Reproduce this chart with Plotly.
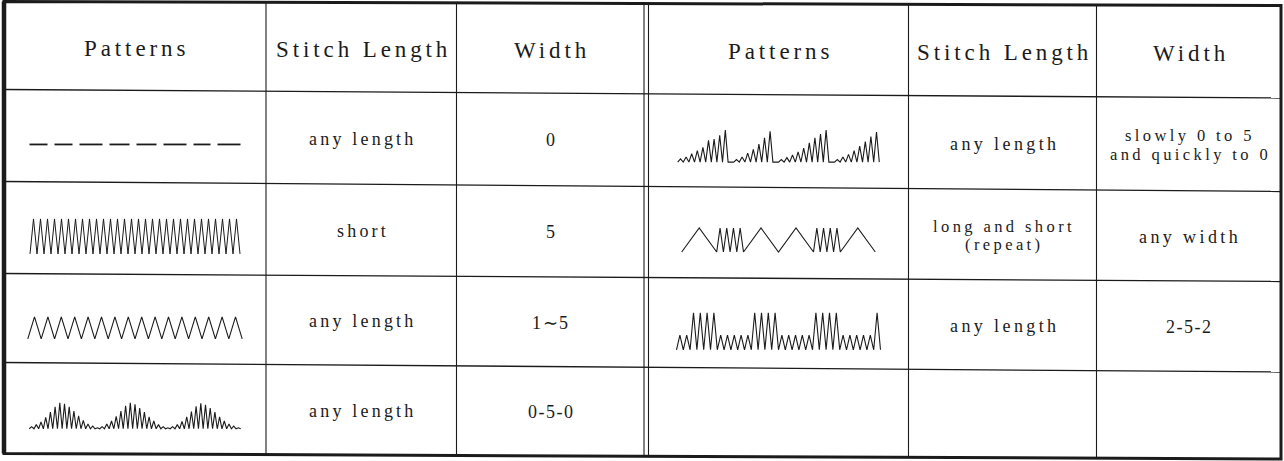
import plotly.graph_objects as go

# ---- table text ----
HEADERS = ["Patterns", "Stitch Length", "Width", "Patterns", "Stitch Length", "Width"]
LENGTH_LEFT = ["any length", "short", "any length", "any length"]
WIDTH_LEFT = ["0", "5", "1∼5", "0-5-0"]
LENGTH_RIGHT = ["any length", "long and short<br>(repeat)", "any length", ""]
WIDTH_RIGHT = ["slowly 0 to 5<br>and quickly to 0", "any width", "2-5-2", ""]

# ---- stitch drawings ----
# straight stitch (width 0): length of each stitch in px
STRAIGHT_DASHES = [18, 18, 23, 20, 20, 23, 17, 23]
# zigzag stitches: needle swing (0-5 on the dial) of every stitch
SATIN_WIDTHS = [5, 5, 5, 5, 5, 5, 5, 5, 5, 5, 5, 5, 5, 5, 5,
                5, 5, 5, 5, 5, 5, 5, 5, 5, 5, 5, 5, 5, 5, 5]
ZIGZAG_WIDTHS = [3, 3, 3, 3, 3, 3, 3, 3, 3, 3, 3, 3, 3, 3, 3, 3]
DOME_WIDTHS = [0.4, 0.8, 1.3, 2.2, 3.2, 4.2, 5.0, 4.8, 4.2, 3.4, 2.5, 1.6, 0.9, 0.5, 0.2,
               0.4, 0.9, 1.5, 2.4, 3.4, 4.4, 5.0, 4.7, 4.0, 3.2, 2.3, 1.5, 0.8, 0.4, 0.2,
               0.4, 0.8, 1.4, 2.3, 3.3, 4.3, 4.9, 4.6, 4.0, 3.2, 2.3, 1.5, 0.9, 0.5, 0.2]
RAMP_WIDTHS = [0.5, 0.8, 1.3, 1.8, 2.3, 3.4, 3.6, 4.2, 5.0, 0,
               0.4, 0.8, 1.4, 2.0, 2.8, 3.8, 4.8, 0,
               0.4, 0.7, 1.1, 1.6, 2.2, 3.0, 3.8, 4.4, 5.0, 0,
               0.4, 0.8, 1.2, 1.8, 2.5, 3.2, 4.0, 4.7]
LONG_SHORT_SEQ = ["L", "L", "S", "S", "S", "S", "S", "S", "S", "S",
                  "L", "L", "L", "L", "S", "S", "S", "S", "S", "S", "S", "S", "L", "L"]
LONG_SHORT_STEP = {"L": 17.5, "S": 3.35}
W252_WIDTHS = [2, 2, 5, 5, 5, 5, 2, 2, 2, 2, 2, 5, 5, 5, 5,
               2, 2, 2, 2, 2, 5, 5, 5, 5, 2, 2, 2, 2, 2, 5]

# ---- grid of the (slightly skewed) scan ----
COL_X = [4, 266, 456.5, 644, 648.5, 908.5, 1096.5, 1281]
ROW_Y_LEFT = [1.5, 89.5, 181.5, 273.5, 362.5, 453.5]
ROW_Y_RIGHT = [5.5, 98, 191.5, 281.5, 372, 459]

INK = "#1b1b1b"
FONT = "Liberation Serif"


def line_y(i, x):
    return ROW_Y_LEFT[i] + (ROW_Y_RIGHT[i] - ROW_Y_LEFT[i]) * (x - COL_X[0]) / (COL_X[-1] - COL_X[0])


def row_center(r, x):
    return (line_y(r, x) + line_y(r + 1, x)) / 2


def zigzag(widths, pitch, scale):
    xs, ys, x = [0.0], [0.0], 0.0
    for w in widths:
        xs += [x + pitch / 2, x + pitch]
        ys += [w * scale, 0.0]
        x += pitch
    return xs, ys


def swing(seq, steps, height):
    xs, ys = [0.0], [0.0]
    for i, s in enumerate(seq):
        xs.append(xs[-1] + steps[s])
        ys.append(height if i % 2 == 0 else 0.0)
    return xs, ys


def dashes(lengths, gap):
    xs, ys, x = [], [], 0.0
    for d in lengths:
        xs += [x, x + d, None]
        ys += [0.0, 0.0, None]
        x += d + gap
    return xs, ys


fig = go.Figure()


def add_pattern(xs, ys, col, row, lw=1.1, dy=7):
    x0, x1 = COL_X[col], COL_X[col + 1]
    cx = (x0 + x1) / 2
    vals = [v for v in xs if v is not None]
    length = max(vals)
    height = max(v for v in ys if v is not None)
    cy = row_center(row, cx) + dy
    X = [None if v is None else cx - length / 2 + v for v in xs]
    Y = [None if v is None else cy + height / 2 - v for v in ys]
    fig.add_trace(go.Scatter(x=X, y=Y, mode="lines", hoverinfo="skip",
                             line=dict(color=INK, width=lw), showlegend=False))


def add_text(text, col, row, size, ls, dy=0):
    x0, x1 = COL_X[col], COL_X[col + 1]
    cx = (x0 + x1) / 2
    cy = row_center(row, cx) + dy
    lines = text.split("<br>") if text else []
    if len(lines) > 1:
        size -= 1.5
    gap = size * 1.12
    for k, t in enumerate(lines):
        off = (k - (len(lines) - 1) / 2) * gap
        spacing = ls if any(c.isalpha() for c in t) else 1.5
        fig.add_annotation(
            x=cx + spacing / 2, y=cy + off, xref="x", yref="y",
            text=f'<span style="letter-spacing:{spacing}px">{t}</span>',
            showarrow=False, xanchor="center", yanchor="middle",
            font=dict(family=FONT, size=size, color=INK),
        )


# patterns (left block col 0, right block col 4)
add_pattern(*dashes(STRAIGHT_DASHES, 7), 0, 1, lw=1.8, dy=8)
add_pattern(*zigzag(SATIN_WIDTHS, 7.0, 7.0), 0, 2, lw=1.0, dy=8)
add_pattern(*zigzag(ZIGZAG_WIDTHS, 13.4, 7.3), 0, 3, dy=9)
add_pattern(*zigzag(DOME_WIDTHS, 4.7, 5.2), 0, 4, dy=7)
add_pattern(*zigzag(RAMP_WIDTHS, 5.6, 6.4), 4, 1, dy=5)
add_pattern(*swing(LONG_SHORT_SEQ, LONG_SHORT_STEP, 24), 4, 2, dy=7)
add_pattern(*zigzag(W252_WIDTHS, 6.8, 7.4), 4, 3, dy=8)

# header and cell text
for c, h in zip([0, 1, 2, 4, 5, 6], HEADERS):
    add_text(h, c, 0, 23, 3.9, dy=2)
for r in range(4):
    add_text(LENGTH_LEFT[r], 1, r + 1, 18, 3.2, dy=1)
    add_text(WIDTH_LEFT[r], 2, r + 1, 18, 3.2, dy=1)
    add_text(LENGTH_RIGHT[r], 5, r + 1, 18, 3.4, dy=1)
    add_text(WIDTH_RIGHT[r], 6, r + 1, 18, 3.4, dy=1)

# grid lines
shapes = []
for i in range(1, len(ROW_Y_LEFT) - 1):
    shapes.append(dict(type="line", x0=COL_X[0], x1=COL_X[-1],
                       y0=ROW_Y_LEFT[i], y1=ROW_Y_RIGHT[i],
                       line=dict(color=INK, width=1.3)))
for x in COL_X[1:-1]:
    shapes.append(dict(type="line", x0=x, x1=x, y0=line_y(0, x), y1=line_y(5, x),
                       line=dict(color=INK, width=1.1)))
border = (f"M {COL_X[0]},{ROW_Y_LEFT[0]} L {COL_X[-1]},{ROW_Y_RIGHT[0]} "
          f"L {COL_X[-1]},{ROW_Y_RIGHT[-1]} L {COL_X[0]},{ROW_Y_LEFT[-1]} Z")
shapes.append(dict(type="path", path=border, line=dict(color=INK, width=3)))
shapes.append(dict(type="line", x0=COL_X[0], x1=COL_X[0], y0=ROW_Y_LEFT[0], y1=ROW_Y_LEFT[-1],
                   line=dict(color=INK, width=4.5)))

fig.update_layout(
    width=1284, height=461,
    margin=dict(l=0, r=0, t=0, b=0),
    paper_bgcolor="white", plot_bgcolor="white",
    xaxis=dict(range=[0, 1284], visible=False, fixedrange=True),
    yaxis=dict(range=[461, 0], visible=False, fixedrange=True),
    shapes=shapes,
    showlegend=False,
)

fig.write_html("out.html", config={"displayModeBar": False},
               post_script="document.body.style.margin='0';document.body.style.overflow='hidden';")
